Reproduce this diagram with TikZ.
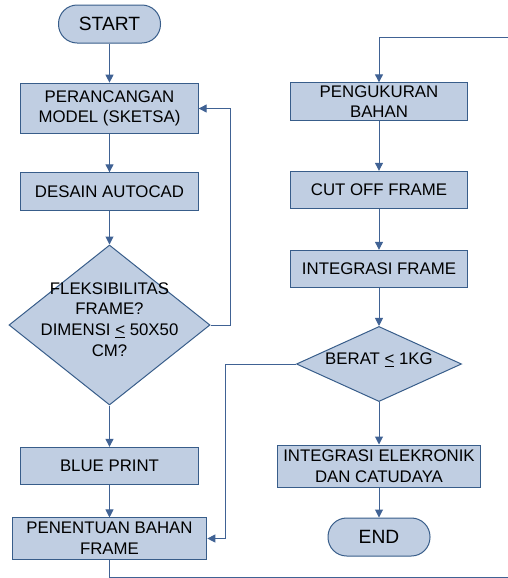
\documentclass[tikz,border=0pt]{standalone}
\usepackage{fontspec}
\setmainfont{Liberation Sans}
\usetikzlibrary{arrows.meta,shapes.geometric}
\definecolor{boxfill}{RGB}{192,206,226}
\definecolor{boxline}{RGB}{56,93,138}
\definecolor{flowline}{RGB}{64,98,148}
\tikzset{
  procbox/.style={draw=boxline, fill=boxfill, line width=0.75pt, inner sep=0pt, align=center,
    minimum width=133pt, minimum height=28pt, font=\fontsize{12.6}{15.5}\selectfont},
  termbox/.style={procbox, rounded corners=14pt, minimum width=76.5pt, minimum height=28.5pt,
    font=\fontsize{14.4}{17}\selectfont},
  decbox/.style={procbox, diamond},
  flow/.style={draw=flowline, line width=0.75pt, -{Triangle[length=6pt,width=6pt]}}
}
\begin{document}
\begin{tikzpicture}[x=0.75pt,y=-0.75pt]
        \useasboundingbox (0,0) rectangle (507,578);
        \node[termbox] (start) at (109.5,24) {START};
        \node[procbox, minimum height=38pt] (perancangan) at (109.5,108.5) {PERANCANGAN\\MODEL (SKETSA)};
        \node[procbox] (desain) at (109.5,191.5) {DESAIN AUTOCAD};
        \node[decbox, minimum width=150.8pt, minimum height=120pt] (flex) at (109.5,325)
            {\smash{\makebox[0pt]{\begin{tabular}{@{}c@{}}FLEKSIBILITAS\\FRAME?\\DIMENSI \underline{<} 50X50\\CM?\end{tabular}}}};
        \node[procbox] (blueprint) at (109.5,466) {BLUE PRINT};
        \node[procbox, minimum width=146pt, minimum height=30.8pt] (penentuan) at (109.5,538.5) {PENENTUAN BAHAN\\FRAME};
        \node[procbox] (pengukuran) at (379,101.5) {PENGUKURAN\\BAHAN};
        \node[procbox] (cutoff) at (379,190) {CUT OFF FRAME};
        \node[procbox] (integrasi) at (379,269) {INTEGRASI FRAME};
        \node[decbox, minimum width=123.8pt, minimum height=56.3pt] (berat) at (379,364)
            {\smash{\makebox[0pt]{BERAT \underline{<} 1KG}}};
        \node[procbox, minimum width=152pt, minimum height=31.5pt] (elektronik) at (379,466) {INTEGRASI ELEKRONIK\\DAN CATUDAYA};
        \node[termbox] (end) at (379,537) {END};
        \coordinate (wrapA) at (512,577);
        \coordinate (wrapB) at (512,37.5);
        \draw[flow] (start) -- (perancangan);
        \draw[flow] (perancangan) -- (desain);
        \draw[flow] (desain) -- (flex);
        \draw[flow] (flex.east) -- ++(19.5,0) |- (perancangan.east);
        \draw[flow] (flex) -- (blueprint);
        \draw[flow] (blueprint) -- (penentuan);
        \draw[flow] (penentuan) |- (wrapA) -- (wrapB) -| (pengukuran);
        \draw[flow] (pengukuran) -- (cutoff);
        \draw[flow] (cutoff) -- (integrasi);
        \draw[flow] (integrasi) -- (berat);
        \draw[flow] (berat.west) -- ++(-70,0) |- (penentuan.east);
        \draw[flow] (berat) -- (elektronik);
        \draw[flow] (elektronik) -- (end);
    \end{tikzpicture}
\end{document}
